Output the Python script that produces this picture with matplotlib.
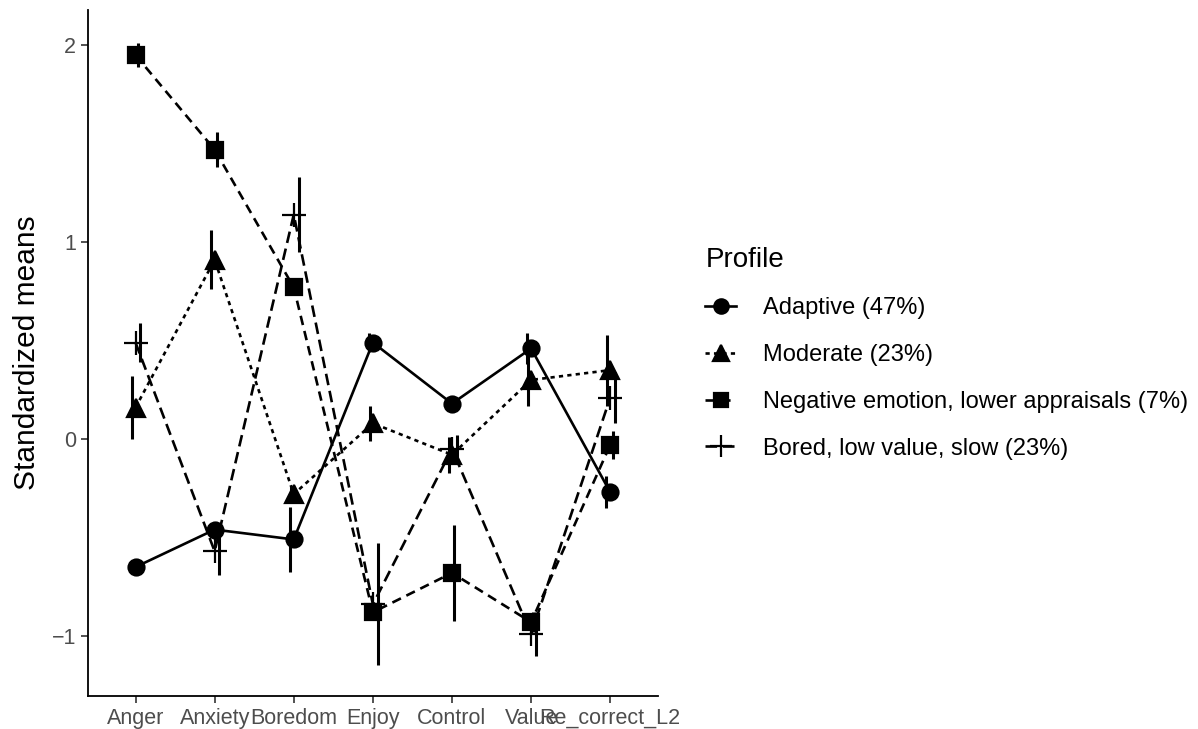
import numpy as np
import matplotlib
matplotlib.use('Agg')
import matplotlib.pyplot as plt
from matplotlib.lines import Line2D

plt.rcParams['font.family'] = ['Liberation Sans', 'DejaVu Sans']

variables = ['Anger', 'Anxiety', 'Boredom', 'Enjoy', 'Control', 'Value', 'Re_correct_L2']
profiles = ['Adaptive (47%)', 'Moderate (23%)',
            'Negative emotion, lower appraisals (7%)', 'Bored, low value, slow (23%)']

adaptive_mean = [-0.65, -0.46, -0.51, 0.49, 0.18, 0.46, -0.27]
adaptive_se = [0.02, 0.03, 0.165, 0.05, 0.03, 0.08, 0.08]
moderate_mean = [0.16, 0.91, -0.28, 0.08, -0.08, 0.30, 0.35]
moderate_se = [0.16, 0.15, 0.04, 0.09, 0.09, 0.13, 0.18]
negative_mean = [1.95, 1.47, 0.77, -0.88, -0.68, -0.93, -0.03]
negative_se = [0.06, 0.09, 0.04, 0.04, 0.245, 0.05, 0.07]
bored_mean = [0.49, -0.57, 1.14, -0.84, -0.05, -0.99, 0.21]
bored_se = [0.10, 0.12, 0.19, 0.31, 0.07, 0.11, 0.13]

means = [adaptive_mean, moderate_mean, negative_mean, bored_mean]
ses = [adaptive_se, moderate_se, negative_se, bored_se]

# style per profile: marker, size, linestyle, errorbar nudge
styles = [
    dict(marker='o', ms=11.5, ls='-', nudge=-0.05),
    dict(marker='^', ms=13, ls=(0, (1.6, 1.6)), nudge=-0.04),
    dict(marker='s', ms=11.5, ls=(0, (3.6, 2.3)), nudge=0.03),
    dict(marker='+', ms=17, ls=(0, (4.4, 2.2)), nudge=0.06),
]

fig = plt.figure(figsize=(11.98, 7.29), dpi=100)
ax = fig.add_axes([0.0735, 0.0453, 0.4755, 0.9407])

x = np.arange(len(variables))
handles = []
for m, s, st in zip(means, ses, styles):
    ax.plot(x, m, color='black', lw=1.9, ls=st['ls'], zorder=2)
    ax.errorbar(x + st['nudge'], m, yerr=s, fmt='none', ecolor='black',
                elinewidth=2.2, capsize=0, zorder=3)
    ax.plot(x, m, ls='none', marker=st['marker'], ms=st['ms'], color='black',
            mew=1.6, zorder=4)
    handles.append(Line2D([], [], color='black', lw=1.9, ls=st['ls'],
                          marker=st['marker'], ms=st['ms'] * 0.9, mew=1.6))

ax.set_xlim(-0.6, 6.6)
ax.set_ylim(-1.305, 2.178)
ax.set_xticks(x)
ax.set_xticklabels(variables)
ax.set_yticks([-1, 0, 1, 2])
ax.set_yticklabels(['\u22121', '0', '1', '2'])
ax.tick_params(colors='#333333', labelcolor='#4D4D4D', labelsize=15.5,
               length=5, width=1.2)
ax.set_ylabel('Standardized means', fontsize=21.5, labelpad=8)
for side in ['top', 'right']:
    ax.spines[side].set_visible(False)
for side in ['left', 'bottom']:
    ax.spines[side].set_linewidth(1.3)

leg = fig.legend(handles, profiles, loc='upper left', bbox_to_anchor=(0.571, 0.691),
                 frameon=False, fontsize=17, title='Profile', title_fontsize=20,
                 handlelength=1.3, labelspacing=1.05, handletextpad=1.15)
leg._legend_box.align = 'left'

fig.savefig('out.png', dpi=100)
